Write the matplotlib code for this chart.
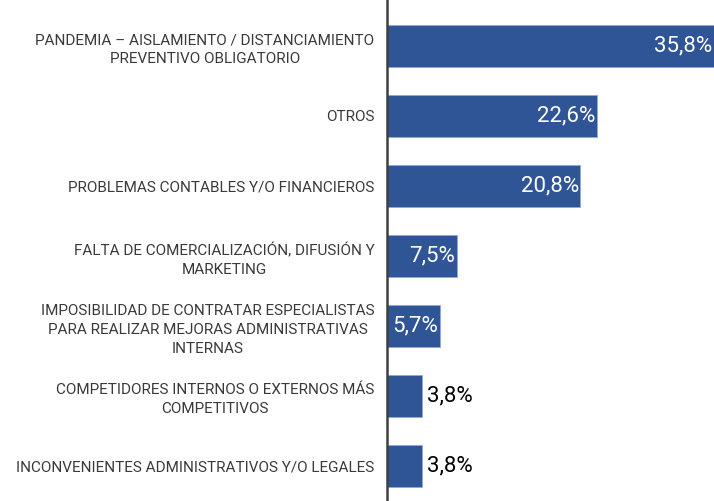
import matplotlib.pyplot as plt

categories = [
    "PANDEMIA – AISLAMIENTO / DISTANCIAMIENTO\nPREVENTIVO OBLIGATORIO",
    "OTROS",
    "PROBLEMAS CONTABLES Y/O FINANCIEROS",
    "FALTA DE COMERCIALIZACIÓN, DIFUSIÓN Y\nMARKETING",
    "IMPOSIBILIDAD DE CONTRATAR ESPECIALISTAS\nPARA REALIZAR MEJORAS ADMINISTRATIVAS\nINTERNAS",
    "COMPETIDORES INTERNOS O EXTERNOS MÁS\nCOMPETITIVOS",
    "INCONVENIENTES ADMINISTRATIVOS Y/O LEGALES",
]
values = [35.8, 22.6, 20.8, 7.5, 5.7, 3.8, 3.8]
value_labels = ["35,8%", "22,6%", "20,8%", "7,5%", "5,7%", "3,8%", "3,8%"]

plt.rcParams['font.family'] = ['Roboto', 'DejaVu Sans']

fig = plt.figure(figsize=(7.14, 5.01), dpi=100)
ax = fig.add_axes([387 / 714, 0, 327 / 714, 1])

bar_color = '#2F5597'
y = list(range(len(values)))
ax.barh(y, values, height=0.6, color=bar_color, edgecolor='#8FAADC', linewidth=0.6)

ax.set_xlim(0, 35.2)
ax.set_ylim(6.5, -0.657)

for spine in ['top', 'right', 'bottom']:
    ax.spines[spine].set_visible(False)
ax.spines['left'].set_color('#404040')
ax.spines['left'].set_linewidth(1.8)
ax.set_xticks([])
ax.set_yticks(y)
ax.set_yticklabels(categories, fontsize=11, color='#3A3A3A', multialignment='center',
                   linespacing=1.45)
ax.tick_params(axis='y', length=0, pad=9)

for i, (v, lab) in enumerate(zip(values, value_labels)):
    if v > 5:
        xpos = min(v, 35.2) - 0.15
        ax.text(xpos, i, lab, ha='right', va='center', color='white', fontsize=16)
    else:
        ax.text(v + 0.5, i, lab, ha='left', va='center', color='black', fontsize=16)

plt.savefig('out.png', dpi=100)
